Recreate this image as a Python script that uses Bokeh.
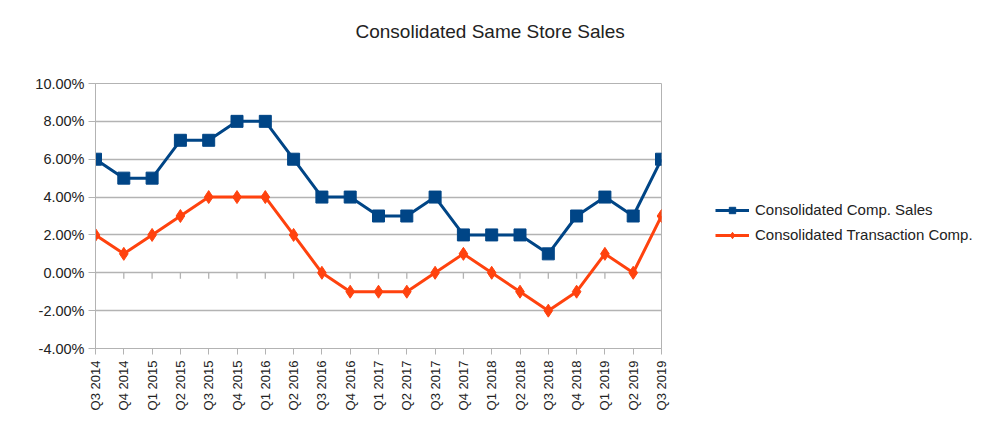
import math
from bokeh.plotting import figure
from bokeh.models import (Range1d, FixedTicker, NumeralTickFormatter, Legend, LegendItem, Title)
from bokeh.embed import file_html
from bokeh.resources import INLINE

quarters = ["Q3 2014", "Q4 2014", "Q1 2015", "Q2 2015", "Q3 2015", "Q4 2015", "Q1 2016",
            "Q2 2016", "Q3 2016", "Q4 2016", "Q1 2017", "Q2 2017", "Q3 2017", "Q4 2017",
            "Q1 2018", "Q2 2018", "Q3 2018", "Q4 2018", "Q1 2019", "Q2 2019", "Q3 2019"]
comp_sales = [0.06, 0.05, 0.05, 0.07, 0.07, 0.08, 0.08, 0.06, 0.04, 0.04, 0.03, 0.03, 0.04,
              0.02, 0.02, 0.02, 0.01, 0.03, 0.04, 0.03, 0.06]
transaction_comp = [0.02, 0.01, 0.02, 0.03, 0.04, 0.04, 0.04, 0.02, 0.00, -0.01, -0.01, -0.01,
                    0.00, 0.01, 0.00, -0.01, -0.02, -0.01, 0.01, 0.00, 0.03]
y_ticks = [-0.04, -0.02, 0.0, 0.02, 0.04, 0.06, 0.08, 0.10]
chart_title = "Consolidated Same Store Sales"

xs = list(range(len(quarters)))
FONT = "Liberation Sans"
BLUE = "#004586"
ORANGE = "#ff420e"
GRID = "#b3b3b3"
TEXT = "#222222"

p = figure(frame_width=566, frame_height=265, output_backend="svg", toolbar_location=None,
           x_range=Range1d(0, len(quarters) - 1), y_range=Range1d(-0.04, 0.10),
           min_border_left=95, min_border_right=0, min_border_top=83, min_border_bottom=78,
           title=None)

# trailing empty lines lift the title towards the top of the page
title = Title(text=chart_title + "\n\n", text_font=FONT, text_font_size="19px",
              text_font_style="normal", text_color=TEXT, align="left", offset=260,
              vertical_align="bottom", standoff=0)
p.add_layout(title, "above")

p.outline_line_color = GRID
p.background_fill_color = "white"
p.border_fill_color = "white"

p.xgrid.visible = False
p.ygrid.grid_line_color = GRID
p.ygrid.grid_line_width = 1.3

p.yaxis.ticker = FixedTicker(ticks=y_ticks)
p.yaxis.formatter = NumeralTickFormatter(format="0.00%")
p.yaxis.axis_line_color = GRID
p.yaxis.major_tick_line_color = GRID
p.yaxis.major_tick_out = 7
p.yaxis.major_tick_in = 0
p.yaxis.minor_tick_line_color = None
p.yaxis.major_label_text_font = FONT
p.yaxis.major_label_text_font_size = "14.5px"
p.yaxis.major_label_text_color = TEXT
p.yaxis.major_label_standoff = 4

xaxis = p.below[0]
xaxis.ticker = FixedTicker(ticks=xs)
xaxis.major_label_overrides = {i: q for i, q in enumerate(quarters)}
xaxis.major_label_orientation = math.pi / 2
xaxis.axis_line_color = GRID
xaxis.major_tick_line_color = GRID
xaxis.major_tick_out = 6
xaxis.major_tick_in = 0
xaxis.minor_tick_line_color = None
xaxis.major_label_text_font = FONT
xaxis.major_label_text_font_size = "13px"
xaxis.major_label_text_color = TEXT
xaxis.major_label_standoff = 6

# tick marks along the zero line
p.segment(x0=xs, y0=[0.0] * len(xs), x1=xs, y1=[-0.0032] * len(xs),
          line_color=GRID, line_width=1.3)

l1 = p.line(xs, comp_sales, line_color=BLUE, line_width=3)
m1 = p.scatter(xs, comp_sales, marker="square", size=12, fill_color=BLUE, line_color=BLUE)
l2 = p.line(xs, transaction_comp, line_color=ORANGE, line_width=3)
m2 = p.scatter(xs, transaction_comp, marker="diamond", size=13, fill_color=ORANGE, line_color=ORANGE)

legend = Legend(items=[LegendItem(label="Consolidated Comp. Sales", renderers=[l1, m1]),
                       LegendItem(label="Consolidated Transaction Comp.", renderers=[l2, m2])],
                location=(54, 105), border_line_color=None, background_fill_alpha=0,
                label_text_font=FONT, label_text_font_size="15px", label_text_color=TEXT,
                glyph_width=34, glyph_height=16, label_standoff=6, spacing=8, padding=0, margin=0)
p.add_layout(legend, "right")

open("out.html", "w").write(file_html(p, INLINE))
